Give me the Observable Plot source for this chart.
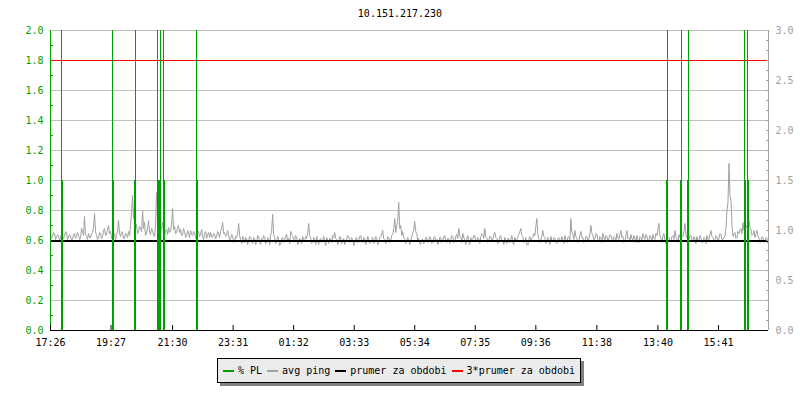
<!DOCTYPE html>
<html><head><meta charset="utf-8">
<script src="https://cdn.jsdelivr.net/npm/d3@7"></script>
<script src="https://cdn.jsdelivr.net/npm/@observablehq/plot@0.6"></script>
<style>
body{margin:0;background:#fff;font-family:"DejaVu Sans Mono",monospace;}
#wrap{position:relative;width:800px;height:400px;background:#fff;}
#chart{position:absolute;top:0;left:0;}
#title{position:absolute;top:8px;left:0;width:800px;text-align:center;font-size:10px;line-height:12px;color:#000;}
#legend{position:absolute;left:217px;top:358px;width:362px;height:23px;border:1px solid #000;background:#ebebeb;box-shadow:3px 3px 0 #808080;display:flex;align-items:center;font-size:10px;color:#000;box-sizing:content-box;}
#legend .it{display:flex;align-items:center;margin-left:5px;}
#legend .sw{display:inline-block;width:11px;height:2px;margin-right:4px;}
</style>
</head><body>
<div id="wrap">
  <div id="chart"></div>
  <div id="title"></div>
  <div id="legend"></div>
</div>
<script>
// ---- data ----
const titleText = "10.151.217.230";
const tickLabels = ["17:26","19:27","21:30","23:31","01:32","03:33","05:34","07:35","09:36","11:38","13:40","15:41"];
const startLabel = "17:26";
const spanMinutes = 1435;
const stepMinutes = 2;
// avg ping in ms (right axis), one sample every stepMinutes
const pingMs = [
0.96,0.92,0.94,0.98,0.97,0.91,0.93,0.96,0.95,0.90,0.92,0.97,0.96,0.92,0.94,0.99,0.98,0.91,0.93,0.96,0.95,0.90,0.91,0.96,0.97,0.92,0.94,0.98,0.96,0.91,0.92,1.02,0.99,0.95,1.14,0.96,0.94,0.91,0.97,0.93,
0.93,0.97,0.98,1.03,1.17,0.99,0.95,0.91,0.92,0.98,0.97,0.92,0.94,1.00,1.02,0.95,0.96,1.01,1.05,0.97,0.99,0.92,0.93,0.98,0.97,0.91,0.95,1.00,1.10,0.97,0.94,0.99,0.98,0.92,0.92,0.97,0.96,0.93,0.99,0.95,
1.05,1.18,1.35,1.12,1.25,1.02,1.06,0.97,0.98,1.04,1.03,0.99,1.20,1.02,1.08,0.95,0.97,1.03,1.10,0.98,0.96,1.02,1.00,0.95,0.94,1.05,1.38,1.10,1.20,0.98,0.97,1.04,1.08,0.96,0.95,1.00,1.01,0.96,1.03,0.98,
0.99,1.06,1.22,1.01,1.04,0.97,0.98,1.03,1.05,0.98,1.01,0.95,0.96,1.02,0.99,0.93,0.94,1.00,0.97,0.93,1.00,0.96,0.95,0.99,0.98,0.92,0.93,0.98,0.99,0.94,0.96,1.01,0.94,0.91,0.97,0.99,0.92,0.96,0.98,0.93,
0.98,0.94,0.93,0.97,0.96,0.92,0.94,0.99,0.97,0.93,0.99,1.02,1.08,0.97,0.98,0.94,0.96,1.00,0.95,0.90,0.92,0.96,0.95,0.88,0.89,0.94,0.93,0.97,1.07,0.95,0.91,0.87,0.94,0.92,0.88,0.93,0.92,0.86,0.90,0.94,
0.93,0.89,0.87,0.93,0.92,0.86,0.89,0.95,0.94,0.88,0.86,0.92,0.91,0.95,0.93,0.87,0.88,0.93,0.92,0.86,0.95,1.00,1.16,0.96,0.93,0.87,0.89,0.94,0.91,0.85,0.86,0.92,0.93,0.88,0.90,0.95,0.96,0.89,0.92,0.87,
0.99,0.96,0.95,0.91,0.90,0.95,0.93,0.86,0.87,0.92,0.91,0.87,0.94,0.90,0.89,0.94,0.92,0.98,1.07,0.95,0.93,0.87,0.88,0.93,0.91,0.86,0.94,0.89,0.86,0.91,0.92,0.88,0.90,0.94,0.89,0.85,0.93,0.90,0.87,0.92,
0.92,0.88,0.95,0.93,0.98,0.92,0.91,0.86,0.88,0.94,0.93,0.87,0.90,0.92,0.86,0.89,0.92,0.95,0.94,0.88,0.89,0.93,0.91,0.85,0.87,0.92,0.93,0.88,0.90,0.94,0.95,0.89,0.88,0.93,0.92,0.86,0.89,0.94,0.91,0.87,
0.88,0.91,0.93,0.87,0.90,0.94,0.92,0.86,0.87,0.93,0.94,0.97,1.00,0.92,0.91,0.87,0.89,0.94,0.93,0.88,0.90,0.95,0.96,1.02,1.12,0.98,1.05,1.10,1.28,1.02,1.05,0.95,0.99,0.93,0.92,0.87,0.89,0.93,0.91,0.86,
0.90,0.94,0.98,1.01,1.09,0.99,0.97,0.90,0.92,0.87,0.86,0.91,0.91,0.87,0.89,0.93,0.93,0.88,0.90,0.94,0.92,0.87,0.88,0.93,0.94,0.89,0.91,0.86,0.89,0.93,0.93,0.88,0.90,0.94,0.95,0.89,0.88,0.92,0.92,0.87,
0.91,0.95,0.94,0.88,0.89,0.94,0.96,0.92,1.02,0.95,0.93,0.88,0.97,0.93,0.90,0.86,0.92,0.95,0.88,0.86,0.93,0.89,0.91,0.95,0.95,0.90,0.89,0.93,0.92,0.87,0.94,0.97,0.96,0.92,1.02,0.94,0.93,0.88,0.90,0.94,
0.94,0.89,0.91,0.96,0.98,0.93,0.92,0.87,0.89,0.94,0.95,0.90,0.90,0.86,0.93,0.89,0.87,0.92,0.92,0.88,0.91,0.95,0.88,0.86,0.93,0.90,0.90,0.94,0.96,0.99,1.02,0.95,0.94,0.88,0.89,0.93,0.86,0.85,0.91,0.94,
0.89,0.92,0.93,0.97,0.95,1.04,1.12,0.96,0.92,0.88,0.90,0.95,1.00,0.94,0.93,0.87,0.88,0.93,0.91,0.86,0.94,0.90,0.89,0.93,0.92,0.88,0.87,0.92,0.93,0.89,0.90,0.94,0.91,0.87,0.95,0.91,0.88,0.93,0.94,0.90,
1.12,0.98,0.96,0.91,1.00,0.94,0.92,0.88,0.90,0.95,0.99,0.93,0.93,0.88,0.89,0.94,0.94,0.90,0.91,0.97,1.05,0.97,0.95,0.90,0.92,0.97,0.96,0.91,0.89,0.94,0.93,0.88,0.97,0.93,0.90,0.95,0.94,0.89,0.92,0.96,
0.95,0.91,0.90,0.94,0.93,0.89,0.97,0.93,0.91,0.96,1.00,0.93,0.94,0.88,0.89,0.95,1.00,0.92,0.93,0.89,0.96,0.92,0.90,0.95,0.92,0.88,0.95,0.91,0.88,0.94,0.93,0.89,0.97,0.93,0.91,0.96,0.94,0.89,0.90,0.95,
0.93,0.89,0.96,0.92,0.91,0.97,0.95,1.01,1.07,0.95,0.92,0.88,0.94,0.97,0.90,0.87,0.97,0.92,0.93,0.89,0.89,0.94,0.95,0.91,1.00,0.94,0.92,0.88,0.96,0.93,0.90,0.95,0.94,0.99,1.07,0.96,0.93,0.89,0.91,0.95,
0.95,0.91,0.89,0.94,0.92,0.87,0.94,0.90,0.90,0.95,0.93,0.88,0.88,0.93,0.92,0.87,0.95,0.91,0.91,0.96,1.00,0.94,0.93,0.89,0.90,0.95,0.94,0.89,0.92,0.97,0.96,0.91,0.91,0.93,0.95,1.02,1.20,1.28,1.67,1.35,
1.30,1.05,0.94,0.97,0.98,0.92,0.93,0.99,0.97,1.01,1.02,0.97,1.08,1.00,0.99,1.04,1.05,0.98,1.10,1.03,1.01,0.95,0.96,1.00,0.93,0.97,1.00,0.94,0.92,0.88,0.90,0.94,0.93,0.88,0.89,0.93,0.92,0.87,0.91,0.94
];
const meanPing = 0.9;           // "prumer za obdobi" (ms)
const meanFactor = 3;           // "3*prumer za obdobi"
// packet loss events (% PL, left axis)
const plTimes = ["17:48","19:30","20:15","21:00","21:05","21:12","22:18","13:59","14:27","14:41","16:34","16:40"];
const plHigh  = [10,10,10,10,10,10,10,10,10,10,10,10];
const plLow   = [1,1,1,1,1,1,1,1,1,1,1,1];
const leftTicks = [0,0.2,0.4,0.6,0.8,1.0,1.2,1.4,1.6,1.8,2.0];
const rightTicks = [0,0.5,1.0,1.5,2.0,2.5,3.0];
const legendItems = ["% PL","avg ping","prumer za obdobi","3*prumer za obdobi"];
const legendColors = ["#00a000","#a0a0a0","#000000","#ff0000"];

// ---- build ----
const green = "#00a000", grey = "#a0a0a0";
const leftMax = 2.0, rightMax = 3.0, k = leftMax / rightMax;
function toDate(hhmm) {
  const [h, m] = hhmm.split(":").map(Number);
  const [sh, sm] = startLabel.split(":").map(Number);
  const day = (h * 60 + m) < (sh * 60 + sm) ? 1 : 0;
  return new Date(2024, 0, 1 + day, h, m);
}
const t0 = toDate(startLabel);
const tEnd = new Date(+t0 + spanMinutes * 60000);
const pingRows = pingMs.map((v, i) => ({t: new Date(+t0 + i * stepMinutes * 60000), v: v * k}));
const plRows = plTimes.map((s, i) => ({t: toDate(s), high: plHigh[i], low: plLow[i]}));
const tickDates = tickLabels.map(toDate);
const leftMinor = d3.range(1, 20, 2).map(i => i / 10);
const rightMajorPos = rightTicks.map(v => v * k);
const rightMinorPos = d3.range(1, 30).map(i => (i / 10) * k);

document.getElementById("title").textContent = titleText;
const lg = document.getElementById("legend");
legendItems.forEach((s, i) => {
  const it = document.createElement("span"); it.className = "it";
  const sw = document.createElement("span"); sw.className = "sw"; sw.style.background = legendColors[i];
  const tx = document.createElement("span"); tx.textContent = s;
  it.appendChild(sw); it.appendChild(tx); lg.appendChild(it);
});

const crisp = "crispEdges";
const chart = Plot.plot({
  width: 800, height: 350,
  marginTop: 30, marginBottom: 20, marginLeft: 50, marginRight: 32,
  style: {fontFamily: "DejaVu Sans Mono", fontSize: "10px", background: "white", color: "black"},
  x: {type: "time", domain: [t0, tEnd], label: null},
  y: {domain: [0, leftMax], label: null},
  marks: [
    Plot.gridY(leftTicks, {stroke: "#c0c0c0", strokeOpacity: 1, shapeRendering: crisp}),
    Plot.line(pingRows, {x: "t", y: "v", stroke: grey, strokeWidth: 1, clip: true}),
    Plot.ruleY([meanPing * k], {stroke: "black", strokeWidth: 2, shapeRendering: crisp}),
    Plot.ruleY([meanFactor * meanPing * k], {stroke: "#ff0000", strokeWidth: 1, shapeRendering: crisp}),
    Plot.ruleX(plRows, {x: "t", y1: 0, y2: "high", stroke: green, strokeWidth: 1, clip: true, shapeRendering: crisp}),
    Plot.ruleX(plRows, {x: "t", y1: 0, y2: "low", stroke: green, strokeWidth: 2, clip: true, shapeRendering: crisp}),
    Plot.ruleX([t0], {stroke: green, strokeWidth: 1, shapeRendering: crisp}),
    Plot.ruleX([tEnd], {stroke: grey, strokeWidth: 1, shapeRendering: crisp}),
    Plot.ruleY([0], {stroke: "black", strokeWidth: 1, shapeRendering: crisp}),
    Plot.axisY(leftTicks, {anchor: "left", label: null, tickSize: 0, tickPadding: 7, tickFormat: d3.format(".1f"), fill: green}),
    Plot.axisY(leftMinor, {anchor: "left", label: null, tickSize: -3, tickFormat: () => "", stroke: green}),
    Plot.axisY(rightMajorPos, {anchor: "right", label: null, tickSize: 0, tickPadding: 7, tickFormat: d => (d / k).toFixed(1), fill: grey}),
    Plot.axisY(rightMinorPos, {anchor: "right", label: null, tickSize: -3, tickFormat: () => "", stroke: grey}),
    Plot.axisX(tickDates, {anchor: "bottom", label: null, tickSize: 0, tickPadding: 8, tickFormat: d3.timeFormat("%H:%M"), fill: "black"}),
    Plot.axisX(tickDates, {anchor: "bottom", label: null, tickSize: -5, tickFormat: () => "", stroke: "black"})
  ]
});
document.getElementById("chart").appendChild(chart);
</script>
</body></html>
